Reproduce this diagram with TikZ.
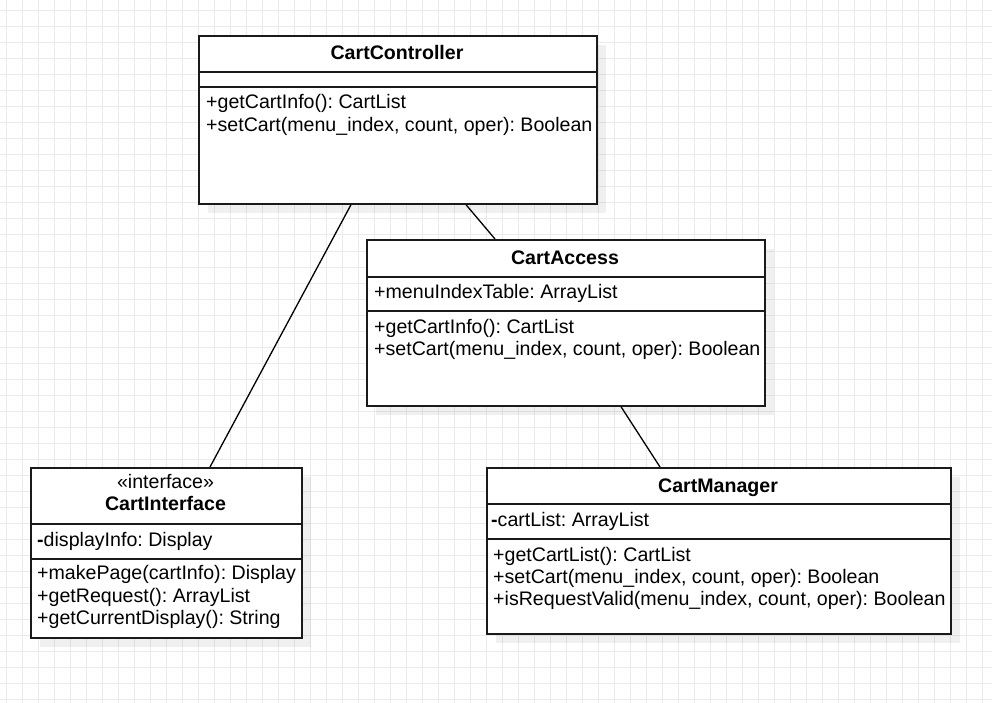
\documentclass[tikz,border=0pt]{standalone}
\usepackage{fontspec}
\setmainfont{Liberation Sans}
\usetikzlibrary{shadows}
\definecolor{gridc}{HTML}{EBEBEB}
\definecolor{linec}{HTML}{1A1A1A}
\frenchspacing
\begin{document}
\begin{tikzpicture}[x=1pt,y=-1pt,
  umlbox/.style={draw=linec, line width=1.7pt, fill=white, rectangle, inner sep=0pt, anchor=north west,
    drop shadow={shadow xshift=9pt, shadow yshift=-9pt, fill=black, opacity=0.06}},
  sepline/.style={draw=linec, line width=1.5pt},
  conn/.style={draw=black, line width=1.3pt},
  txt/.style={inner sep=0pt, anchor=base west, font=\fontsize{19.6}{22}\selectfont},
  ttl/.style={inner sep=0pt, anchor=base, font=\fontsize{19.6}{22}\selectfont\bfseries},
  stereo/.style={inner sep=0pt, anchor=base, font=\fontsize{19.6}{22}\selectfont}]
\useasboundingbox (0,0) rectangle (992,703);
\fill[white] (0,0) rectangle (992,703);
% grid
\foreach \gx in {6,22,...,998} \draw[gridc, line width=1pt] (\gx,0) -- (\gx,703);
\foreach \gy in {11,27,...,703} \draw[gridc, line width=1pt] (0,\gy) -- (992,\gy);

% class boxes
\node[umlbox, minimum width=398pt, minimum height=168pt] (cc) at (198,35) {};
\node[umlbox, minimum width=398pt, minimum height=166pt] (ca) at (366,239) {};
\node[umlbox, minimum width=271pt, minimum height=170pt] (ci) at (30,467) {};
\node[umlbox, minimum width=464pt, minimum height=166pt] (cm) at (486,467) {};

% connectors
\coordinate (p1) at ([xshift=153pt]cc.south west);
\coordinate (p2) at ([xshift=180pt]ci.north west);
\coordinate (p3) at ([xshift=268pt]cc.south west);
\coordinate (p4) at ([xshift=129pt]ca.north west);
\coordinate (p5) at ([xshift=255pt]ca.south west);
\coordinate (p6) at ([xshift=174pt]cm.north west);
\draw[conn] (p1) -- (p2);
\draw[conn] (p3) -- (p4);
\draw[conn] (p5) -- (p6);

% CartController
\draw[sepline] ([yshift=-37pt]cc.north west) -- ([yshift=-37pt]cc.north east);
\draw[sepline] ([yshift=-52pt]cc.north west) -- ([yshift=-52pt]cc.north east);
\node[ttl] (cc-t) at (397,60) {CartController};
\node[txt] (cc-m1) at (206,109) {+getCartInfo(): CartList};
\node[txt] (cc-m2) at (206,132) {+setCart(menu\_index, count, oper): Boolean};

% CartAccess
\draw[sepline] ([yshift=-38pt]ca.north west) -- ([yshift=-38pt]ca.north east);
\draw[sepline] ([yshift=-72pt]ca.north west) -- ([yshift=-72pt]ca.north east);
\node[ttl] (ca-t) at (565,264) {CartAccess};
\node[txt] (ca-a1) at (374,298) {+menuIndexTable: ArrayList};
\node[txt] (ca-m1) at (374,333) {+getCartInfo(): CartList};
\node[txt] (ca-m2) at (374,355) {+setCart(menu\_index, count, oper): Boolean};

% CartInterface
\draw[sepline] ([yshift=-57pt]ci.north west) -- ([yshift=-57pt]ci.north east);
\draw[sepline] ([yshift=-92pt]ci.north west) -- ([yshift=-92pt]ci.north east);
\node[stereo] (ci-s) at (165.5,488) {«interface»};
\node[ttl] (ci-t) at (165.5,510) {CartInterface};
\node[txt] (ci-a1) at (37,546) {\textbf{-}displayInfo: Display};
\node[txt] (ci-m1) at (37,579) {+makePage(cartInfo): Display};
\node[txt] (ci-m2) at (37,602) {+getRequest(): ArrayList};
\node[txt] (ci-m3) at (37,624) {+getCurrentDisplay(): String};

% CartManager
\draw[sepline] ([yshift=-37pt]cm.north west) -- ([yshift=-37pt]cm.north east);
\draw[sepline] ([yshift=-72pt]cm.north west) -- ([yshift=-72pt]cm.north east);
\node[ttl] (cm-t) at (718,492) {CartManager};
\node[txt] (cm-a1) at (491,526) {\textbf{-}cartList: ArrayList};
\node[txt] (cm-m1) at (493,561) {+getCartList(): CartList};
\node[txt] (cm-m2) at (493,583) {+setCart(menu\_index, count, oper): Boolean};
\node[txt] (cm-m3) at (493,605) {+isRequestValid(menu\_index, count, oper): Boolean};
\end{tikzpicture}
\end{document}
